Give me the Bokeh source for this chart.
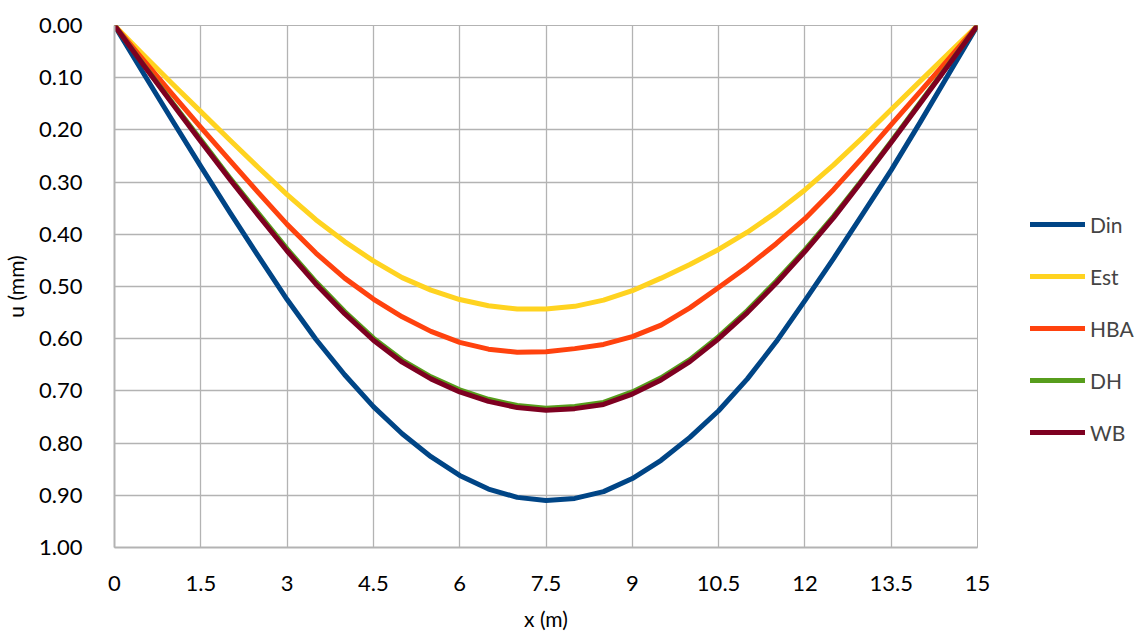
from bokeh.plotting import figure
from bokeh.layouts import row
from bokeh.models import Range1d, FixedTicker, Legend, LegendItem, NumeralTickFormatter
from bokeh.embed import file_html
from bokeh.resources import INLINE

x_m = [0, 0.5, 1, 1.5, 2, 2.5, 3, 3.5, 4, 4.5, 5, 5.5, 6, 6.5, 7, 7.5,
       8, 8.5, 9, 9.5, 10, 10.5, 11, 11.5, 12, 12.5, 13, 13.5, 14, 14.5, 15]
din = [0, 0.091, 0.181, 0.270, 0.357, 0.442, 0.525, 0.601, 0.669, 0.730, 0.782, 0.826, 0.862, 0.888, 0.904, 0.910,
       0.906, 0.893, 0.868, 0.833, 0.789, 0.738, 0.677, 0.606, 0.527, 0.446, 0.362, 0.277, 0.186, 0.093, 0]
est = [0, 0.056, 0.111, 0.165, 0.219, 0.272, 0.324, 0.372, 0.414, 0.451, 0.483, 0.507, 0.525, 0.537, 0.543, 0.543,
       0.538, 0.526, 0.508, 0.484, 0.458, 0.429, 0.396, 0.358, 0.315, 0.267, 0.215, 0.161, 0.107, 0.053, 0]
hba = [0, 0.066, 0.131, 0.195, 0.258, 0.320, 0.381, 0.436, 0.484, 0.524, 0.558, 0.586, 0.607, 0.620, 0.626, 0.625,
       0.619, 0.611, 0.596, 0.574, 0.541, 0.502, 0.462, 0.418, 0.370, 0.314, 0.253, 0.190, 0.127, 0.064, 0]
dh = [0, 0.074, 0.147, 0.219, 0.291, 0.360, 0.428, 0.491, 0.548, 0.599, 0.641, 0.673, 0.698, 0.716, 0.728, 0.733,
      0.730, 0.722, 0.702, 0.675, 0.640, 0.596, 0.546, 0.490, 0.430, 0.365, 0.295, 0.222, 0.148, 0.074, 0]
wb = [0, 0.075, 0.149, 0.222, 0.294, 0.364, 0.432, 0.495, 0.552, 0.603, 0.645, 0.677, 0.702, 0.720, 0.732, 0.737,
      0.734, 0.726, 0.706, 0.679, 0.644, 0.600, 0.550, 0.494, 0.433, 0.368, 0.297, 0.224, 0.150, 0.075, 0]

series_names = ["Din", "Est", "HBA", "DH", "WB"]
series_values = [din, est, hba, dh, wb]
series_colors = ["#004586", "#FFD320", "#FF420E", "#579D1C", "#7E0021"]

x_ticks = [0, 1.5, 3, 4.5, 6, 7.5, 9, 10.5, 12, 13.5, 15]
x_tick_labels = ["0", "1.5", "3", "4.5", "6", "7.5", "9", "10.5", "12", "13.5", "15"]
y_ticks = [0.0, 0.1, 0.2, 0.3, 0.4, 0.5, 0.6, 0.7, 0.8, 0.9, 1.0]

FONT = "Lato"
GRID = "#b3b3b3"

p = figure(width=997, height=633, output_backend="svg", toolbar_location=None,
           x_range=Range1d(0, 15), y_range=Range1d(1.0, 0.0),
           min_border_left=114, min_border_right=20, min_border_top=25, min_border_bottom=83)

p.outline_line_color = GRID
p.outline_line_width = 1
p.background_fill_color = "white"
p.border_fill_color = "white"

p.xaxis.ticker = FixedTicker(ticks=x_ticks)
p.xaxis.major_label_overrides = {t: l for t, l in zip(x_ticks, x_tick_labels)}
p.yaxis.ticker = FixedTicker(ticks=y_ticks)
p.yaxis.formatter = NumeralTickFormatter(format="0.00")

for ax in (p.xaxis, p.yaxis):
    ax.axis_line_color = GRID
    ax.axis_line_width = 2
    ax.major_tick_line_color = None
    ax.minor_tick_line_color = None
    ax.major_label_text_font = FONT
    ax.major_label_text_font_size = "22px"
    ax.major_label_text_color = "black"
    ax.axis_label_text_font = FONT
    ax.axis_label_text_font_size = "21px"
    ax.axis_label_text_font_style = "normal"
    ax.axis_label_text_color = "black"

p.xaxis.axis_label = "x (m)"
p.yaxis.axis_label = "u (mm)"
p.xaxis.major_label_standoff = 22
p.yaxis.major_label_standoff = 26
p.xaxis.axis_label_standoff = 12
p.yaxis.axis_label_standoff = 8

p.xgrid.grid_line_color = GRID
p.ygrid.grid_line_color = GRID
p.xgrid.grid_line_width = 1.3
p.ygrid.grid_line_width = 1.3

for vals, col in zip(series_values, series_colors):
    p.line(x_m, vals, line_color=col, line_width=5, line_join="round", line_cap="round")

# legend panel (its sample lines use the same series, kept outside its visible range)
p2 = figure(width=140, height=633, output_backend="svg", toolbar_location=None,
            x_range=Range1d(100, 101), y_range=Range1d(100, 101),
            min_border_left=0, min_border_right=0, min_border_top=0, min_border_bottom=0)
p2.axis.visible = False
p2.grid.visible = False
p2.outline_line_color = None
items = []
for name, vals, col in zip(series_names, series_values, series_colors):
    r = p2.line(x_m, vals, line_color=col, line_width=5, line_cap="round")
    items.append(LegendItem(label=name, renderers=[r]))

legend = Legend(items=items, location=(33, 102), orientation="vertical",
                glyph_width=55, glyph_height=26, label_height=26, spacing=26,
                padding=0, margin=0, label_standoff=5,
                label_text_font=FONT, label_text_font_size="21px",
                border_line_color=None, background_fill_alpha=0)
p2.add_layout(legend, "center")

layout = row(p, p2, spacing=0)
open("out.html", "w").write(file_html(layout, INLINE))
